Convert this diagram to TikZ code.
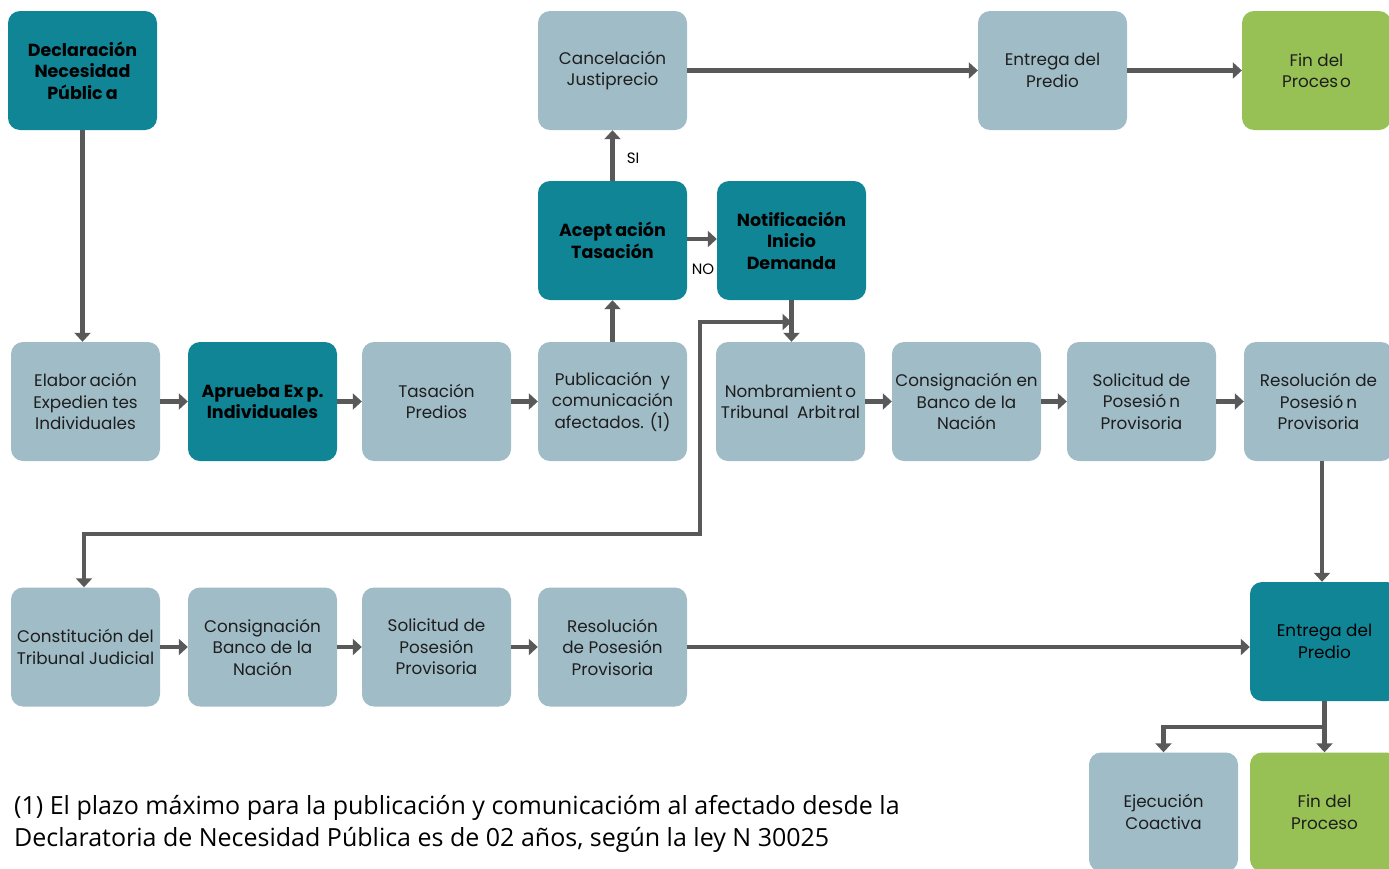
\documentclass[tikz,border=0pt]{standalone}
\usepackage{fontspec}
\setmainfont{Poppins}
\newfontfamily\notefont{Open Sans}
\usetikzlibrary{arrows.meta}
\definecolor{darkbox}{RGB}{16,133,150}
\definecolor{lightbox}{RGB}{160,188,199}
\definecolor{fingreen}{RGB}{151,193,85}
\definecolor{arrowgray}{RGB}{89,89,89}
\definecolor{boxtext}{RGB}{30,30,30}
\tikzset{
  box/.style={rounded corners=12pt, minimum width=149pt, minimum height=119pt,
    inner sep=0pt, align=center, text=boxtext, font=\fontsize{16.8}{21.5}\selectfont},
  lbox/.style={box, fill=lightbox},
  gbox/.style={box, fill=fingreen},
  dbox/.style={box, fill=darkbox, text=black, font=\fontsize{17.5}{21.5}\selectfont\bfseries},
  dboxr/.style={box, fill=darkbox, text=black},
  line/.style={draw=arrowgray, line width=4.5pt},
  conn/.style={line, -{Triangle[length=9pt,width=16pt]}},
  bothconn/.style={line, {Triangle[length=9pt,width=16pt]}-{Triangle[length=9pt,width=16pt]}},
  lbl/.style={text=black, font=\fontsize{15}{17}\selectfont, inner sep=0pt},
}
\begin{document}
\begin{tikzpicture}[x=1pt,y=-1pt]
\useasboundingbox (0,0) rectangle (1389,868);
% row 1
\node[dbox] (decl) at (82.5,70.5) {Declaración\\Necesidad\\Públic\kern3pt a};
\node[lbox] (canc) at (612.5,70.5) {Cancelación\\Justiprecio};
\node[lbox] (entr1) at (1052.5,70.5) {Entrega del\\Predio};
\node[gbox] (fin1) at (1316.5,70.5) {Fin del\\Proces\kern2pt o};
% row 2
\node[dbox] (acep) at (612.5,240.5) {Acept\kern3pt ación\\Tasación};
\node[dbox] (noti) at (791.5,240.5) {Notificación\\Inicio\\Demanda};
% row 3
\node[lbox] (elab) at (85.5,401.5) {Elabor\kern3pt ación\\Expedien\kern4pt tes\\Individuales};
\node[dbox] (apru) at (262.5,401.5) {Aprueba Ex\kern3pt p.\\Individuales};
\node[lbox] (tasa) at (436.5,401.5) {Tasación\\Predios};
\node[lbox] (publ) at (612.5,401.5) {Publicación\enspace y\\comunicación\\afectados. (1)};
\node[lbox] (nomb) at (790.5,401.5) {Nombramient\kern3pt o\\Tribunal\enspace Arbit\kern2pt ral};
\node[lbox] (cons) at (966.5,401.5) {Consignación en\\Banco de la\\Nación};
\node[lbox] (soli) at (1141.5,401.5) {Solicitud de\\Posesió\kern3pt n\\Provisoria};
\node[lbox] (reso) at (1318.5,401.5) {Resolución de\\Posesió\kern3pt n\\Provisoria};
% row 4
\node[lbox] (const) at (85.5,647) {Constitución del\\Tribunal Judicial};
\node[lbox] (cons2) at (262.5,647) {Consignación\\Banco de la\\Nación};
\node[lbox] (soli2) at (436.5,647) {Solicitud de\\Posesión\\Provisoria};
\node[lbox] (reso2) at (612.5,647) {Resolución\\de Posesión\\Provisoria};
\node[dboxr] (entr2) at (1324.5,641.5) {Entrega del\\Predio};
% row 5
\node[lbox] (ejec) at (1163.5,812) {Ejecución\\Coactiva};
\node[gbox] (fin2) at (1324.5,812) {Fin del\\Proceso};
% labels
\node[lbl] (si) at (633,158) {SI};
\node[lbl] (no) at (703,269) {NO};
% note
\node[anchor=base west, inner sep=0pt, text=black] (note1) at (14,814)
  {\notefont\fontsize{25}{30}\selectfont (1) El plazo máximo para la publicación y comunicacióm al afectado desde la};
\node[anchor=base west, inner sep=0pt, text=black] (note2) at (14,846)
  {\notefont\fontsize{25}{30}\selectfont Declaratoria de Necesidad Pública es de 02 años, según la ley N 30025};
% connectors
\draw[conn] (decl.south) -- (decl.south |- elab.north);
\draw[conn] (elab.east) -- (apru.west);
\draw[conn] (apru.east) -- (tasa.west);
\draw[conn] (tasa.east) -- (publ.west);
\draw[conn] (publ.north) -- (acep.south);
\draw[conn] (acep.north) -- (canc.south);
\draw[conn] ([yshift=1.5pt]acep.east) -- ([yshift=1.5pt]noti.west);
\draw[conn] (canc.east) -- (entr1.west);
\draw[conn] (entr1.east) -- (fin1.west);
\draw[conn] (noti.south) -- (nomb.north -| noti.south);
\coordinate (join) at (791.5,322);
\coordinate (c1) at (84,534);
\coordinate (c2) at (700,534);
\coordinate (c3) at (700,322);
\draw[bothconn] (const.north -| c1) -- (c1) -- (c2) -- (c3) -- (join);
\draw[conn] (nomb.east) -- (cons.west);
\draw[conn] (cons.east) -- (soli.west);
\draw[conn] (soli.east) -- (reso.west);
\draw[conn] (const.east) -- (cons2.west);
\draw[conn] (cons2.east) -- (soli2.west);
\draw[conn] (soli2.east) -- (reso2.west);
\draw[conn] ([xshift=3.5pt]reso.south) -- ([xshift=3.5pt]reso.south |- entr2.north);
\draw[conn] (reso2.east) -- (reso2.east -| entr2.west);
\coordinate (branch) at (1324.5,727);
\draw[line] (entr2.south) -- (branch);
\draw[conn] (branch) -| (ejec.north);
\draw[conn] (branch) -- (fin2.north);
\end{tikzpicture}
\end{document}
